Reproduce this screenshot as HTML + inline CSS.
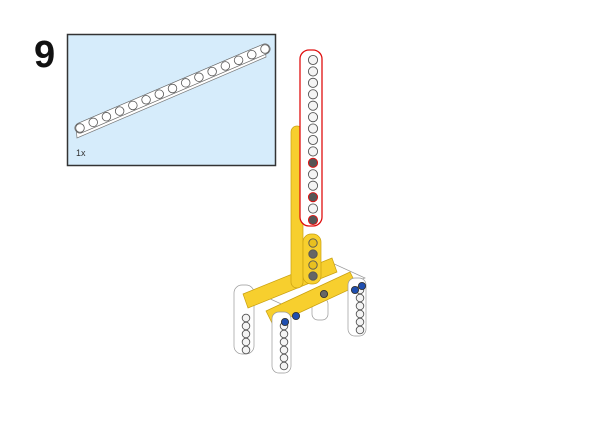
<!DOCTYPE html>
<html><head><meta charset="utf-8"><style>
html,body{margin:0;padding:0;background:#fff;}
svg{display:block;}
</style></head><body>
<svg width="600" height="424" viewBox="0 0 600 424">
<text x="34" y="67" font-family="Liberation Sans, sans-serif" font-weight="bold" font-size="38" fill="#111">9</text>
<g>
<rect x="67.5" y="34.5" width="208" height="131" fill="#d6ecfb" stroke="#333" stroke-width="1.5"/>
<polygon points="76,127 265,47 266,57 77,138" fill="#fff" stroke="#777" stroke-width="0.7"/>
<line x1="80" y1="128" x2="265" y2="49" stroke="#666" stroke-width="11" stroke-linecap="round"/>
<line x1="80" y1="128" x2="265" y2="49" stroke="#fff" stroke-width="9.6" stroke-linecap="round"/>
<g id="ch" fill="#fff" stroke="#555" stroke-width="0.8"></g>
<text x="76" y="156" font-family="Liberation Sans, sans-serif" font-size="9" fill="#333">1x</text>
</g>
<g>
<rect x="234" y="285" width="20" height="69" rx="8" fill="#fff" stroke="#999" stroke-width="0.7"/>
<rect x="312" y="298" width="16" height="22" rx="6" fill="#fff" stroke="#999" stroke-width="0.7"/>
<polygon points="255,292 330,262 365,278 290,308" fill="#fff" stroke="#999" stroke-width="0.7"/>
<polygon points="243,294 332,258 337,272 248,308" fill="#f7cf2e" stroke="#c9a010" stroke-width="0.7"/>
<polygon points="266,311 350,272 357,286 273,325" fill="#f7cf2e" stroke="#c9a010" stroke-width="0.7"/>
<rect x="348" y="278" width="18" height="58" rx="7" fill="#fff" stroke="#999" stroke-width="0.7"/>
<rect x="272" y="312" width="19" height="61" rx="7" fill="#fff" stroke="#999" stroke-width="0.7"/>
<rect x="291" y="126" width="12" height="162" rx="6" fill="#f7cf2e" stroke="#c9a010" stroke-width="0.7"/>
<rect x="303" y="234" width="18" height="50" rx="8" fill="#f7cf2e" stroke="#c9a010" stroke-width="0.7"/>
<rect x="300" y="50" width="22" height="176" rx="9" fill="#fff" stroke="#e01010" stroke-width="1.3"/>
<g id="holes" fill="#f4f4f4" stroke="#555" stroke-width="0.9"></g>
</g>
</svg>
<script>
const NS="http://www.w3.org/2000/svg";
function hole(g,x,y,r,fill,stroke){const c=document.createElementNS(NS,'circle');c.setAttribute('cx',x);c.setAttribute('cy',y);c.setAttribute('r',r);if(fill)c.setAttribute('fill',fill);if(stroke)c.setAttribute('stroke',stroke);


g.appendChild(c);}
const ch=document.getElementById('ch');
for(let i=0;i<15;i++){hole(ch,80+i*(185/14),128-i*(79/14),4.3);}
const h=document.getElementById('holes');
for(let i=0;i<15;i++){const y=60+i*(160/14);const red=(i==9||i==12||i==14);hole(h,313,y,4.6,red?'#555':'#f4f4f4',red?'#e01010':'#555');}
for(let i=0;i<4;i++){hole(h,313,243+i*11,4.2,i%2?'#666':'#e8c020','#555');}
for(let i=0;i<5;i++){hole(h,246,318+i*8,3.8);}
for(let i=0;i<6;i++){hole(h,284,326+i*8,3.8);}
for(let i=0;i<6;i++){hole(h,360,290+i*8,3.8);}
[[285,322],[296,316],[355,290],[362,286],[324,294]].forEach((p,i)=>hole(h,p[0],p[1],3.6,i==4?'#666':'#1f4fb0','#333'));
</script>
</body></html>
